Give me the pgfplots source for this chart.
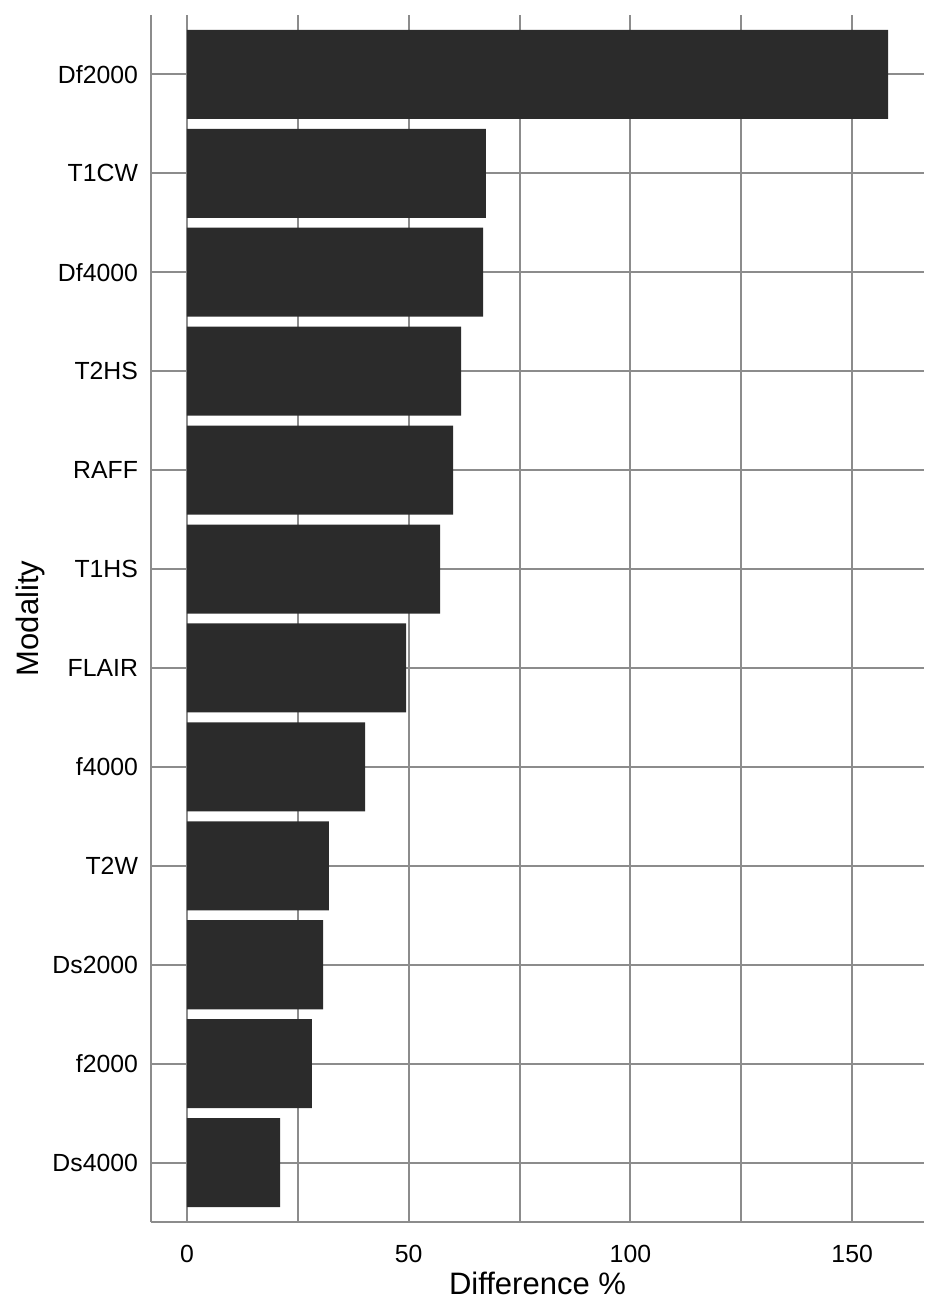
\documentclass[border=0pt]{standalone}
\usepackage{pgfplots}
\pgfplotsset{compat=1.18}
\usepackage{fontspec}
\setmainfont{Liberation Sans}
\definecolor{barfill}{HTML}{2B2B2B}
\definecolor{gridgray}{HTML}{8C8C8C}
\begin{document}
\begin{tikzpicture}
\begin{axis}[
    scale only axis,
    width=386.5pt, height=603.5pt,
    xmin=-8.1, xmax=166.2,
    ymin=0.4, ymax=12.6,
    axis x line*=bottom, axis y line*=left,
    axis line style={gridgray, line width=1pt},
    xtick={0,50,100,150},
    minor xtick={25,75,125},
    ytick={1,...,12},
    yticklabels={Ds4000,f2000,Ds2000,T2W,f4000,FLAIR,T1HS,RAFF,T2HS,Df4000,T1CW,Df2000},
    major tick length=0pt, minor tick length=0pt,
    xmajorgrids, xminorgrids, ymajorgrids,
    grid style={gridgray, line width=1pt},
    major grid style={gridgray, line width=1pt},
    minor grid style={gridgray, line width=1pt},
    tick label style={font=\fontsize{12.4}{14}\selectfont, black},
    /pgf/number format/assume math mode=true,
    xticklabel style={yshift=-8pt},
    yticklabel style={xshift=-3pt},
    xlabel={Difference \%},
    ylabel={Modality},
    label style={font=\fontsize{15.5}{18}\selectfont},
    xlabel style={at={(axis description cs:0.5,-0.0505)}, anchor=center},
    ylabel style={at={(axis description cs:-0.1565,0.5)}, anchor=center},
]
\addplot[xbar, bar width=0.9, fill=barfill, draw=none] coordinates {
    (21.0,1)
    (28.2,2)
    (30.7,3)
    (32.0,4)
    (40.2,5)
    (49.4,6)
    (57.1,7)
    (60.0,8)
    (61.8,9)
    (66.8,10)
    (67.4,11)
    (158.1,12)
};
\end{axis}
\path[use as bounding box] ([xshift=-75.5pt,yshift=-47pt]current axis.south west) rectangle ([xshift=8pt,yshift=7.5pt]current axis.north east);
\end{tikzpicture}
\end{document}
